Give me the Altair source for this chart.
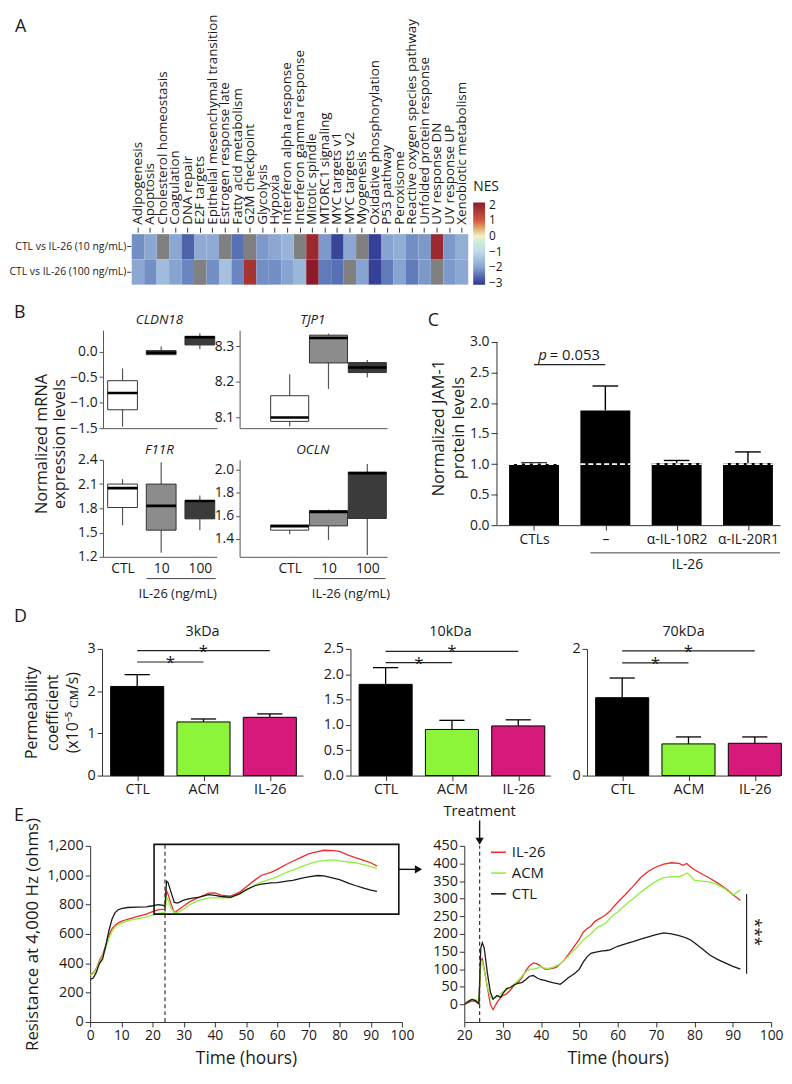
import json
import altair as alt
import pandas as pd

FONT = "Open Sans"
INK = "#1a1a1a"

# ---------------- Panel A: NES heatmap ----------------
pathways = [
    "Adipogenesis", "Apoptosis", "Cholesterol homeostasis", "Coagulation", "DNA repair",
    "E2F targets", "Epithelial mesenchymal transition", "Estrogen response late",
    "Fatty acid metabolism", "G2M checkpoint", "Glycolysis", "Hypoxia",
    "Interferon alpha response", "Interferon gamma response", "Mitotic spindle",
    "MTORC1 signaling", "MYC targets v1", "MYC targets v2", "Myogenesis",
    "Oxidative phosphorylation", "P53 pathway", "Peroxisome",
    "Reactive oxygen species pathway", "Unfolded protein response", "UV response DN",
    "UV response UP", "Xenobiotic metabolism",
]
comparisons = ["CTL vs IL-26 (10 ng/mL)", "CTL vs IL-26 (100 ng/mL)"]
nes_10 = [-2.2, -1.9, None, -1.9, -2.65, -1.85, -1.85, None, -2.5, None, -2.1, -1.9, -1.7, None,
          1.9, -2.1, -2.95, -1.9, None, -3.0, -2.0, -1.8, -2.2, -2.1, 1.9, -2.1, -1.8]
nes_100 = [-1.9, -2.2, -1.55, -2.0, -2.3, None, -2.2, -1.45, -2.3, 1.7, -2.2, -2.2, -2.0, -1.65,
           2.15, -2.4, -2.5, None, -2.0, -3.0, -2.4, -2.0, -2.4, -2.1, None, -2.1, -1.9]
nes_legend_values = [-3, -2, -1, 0, 1, 2]
nes_stops = [-3.1, -2, -1, 0, 1, 2.15]
nes_colors = ["#30368f", "#87a3cf", "#c4d8ea", "#f5f0c6", "#cf5a3f", "#8b1b2b"]
na_color = "#808080"

# ---------------- Panel B: boxplots ----------------
box_groups = ["CTL", "10", "100"]
box_fills = ["#ffffff", "#8c8c8c", "#3b3b3b"]
cldn18 = dict(lo=[-1.47, -0.06, 0.05], q1=[-1.14, -0.06, 0.13], med=[-0.81, -0.02, 0.28],
              q3=[-0.57, 0.02, 0.30], hi=[-0.33, 0.10, 0.36])
tjp1 = dict(lo=[8.075, 8.18, 8.212], q1=[8.089, 8.253, 8.226], med=[8.10, 8.323, 8.24],
            q3=[8.161, 8.331, 8.254], hi=[8.221, 8.335, 8.261])
f11r = dict(lo=[1.59, 1.25, 1.53], q1=[1.81, 1.53, 1.67], med=[2.05, 1.83, 1.89],
            q3=[2.10, 2.10, 1.895], hi=[2.16, 2.37, 1.96])
ocln = dict(lo=[1.44, 1.39, 1.26], q1=[1.476, 1.513, 1.577], med=[1.51, 1.634, 1.97],
            q3=[1.521, 1.645, 1.977], hi=[1.521, 1.654, 2.048])

# ---------------- Panel C: JAM-1 ----------------
jam_labels = ["CTLs", "\u2013", "\u03b1-IL-10R2", "\u03b1-IL-20R1"]
jam_mean = [1.00, 1.88, 1.02, 1.02]
jam_upper = [1.02, 2.28, 1.06, 1.20]
jam_baseline = [1.0, 1.0, 1.0, 1.0]
jam_sig = dict(a=[0], b=[1], lvl=[2.63])
jam_axis_span = dict(x=[-0.52], y0=[0], y1=[3])

# ---------------- Panel D: permeability ----------------
perm_groups = ["CTL", "ACM", "IL-26"]
perm_colors = ["#000000", "#8cf53a", "#d6197b"]
perm_titles = ["3kDa", "10kDa", "70kDa"]
perm_mean = [[2.11, 1.27, 1.38], [1.80, 0.91, 0.98], [1.23, 0.50, 0.51]]
perm_upper = [[2.39, 1.34, 1.46], [2.13, 1.09, 1.10], [1.54, 0.61, 0.61]]
perm_sig_long = [2.96, 2.45, 1.97]
perm_sig_short = [2.69, 2.23, 1.78]
perm_ymax = [3, 2.5, 2]
perm_ticks = [[0, 1, 2, 3], [0, 0.5, 1, 1.5, 2, 2.5], [0, 1, 2]]
perm_fmt = ["d", ".1f", "d"]

# ---------------- Panel E: resistance ----------------
series_names = ["IL-26", "ACM", "CTL"]
series_colors = ["#ee2a2a", "#8ef03c", "#1a1a1a"]
t_left = [0, 1, 2, 3, 4, 5, 6, 7, 8, 9, 10, 12, 15, 18, 20, 22, 23.5, 24, 24.5, 25, 26, 27, 28,
          30, 32, 35, 38, 40, 42, 45, 48, 50, 53, 55, 58, 60, 63, 65, 68, 70, 73, 75, 78, 80,
          83, 85, 88, 90, 92]
ctl_left = [290, 300, 340, 400, 430, 520, 620, 700, 745, 765, 772, 780, 782, 785, 792, 800, 795,
            785, 960, 950, 880, 815, 810, 830, 840, 850, 868, 862, 855, 850, 875, 900, 930, 940,
            948, 950, 960, 965, 980, 988, 998, 995, 980, 970, 945, 930, 910, 898, 890]
il26_left = [320, 335, 365, 420, 460, 520, 590, 635, 660, 675, 685, 700, 718, 735, 752, 765, 768,
             768, 893, 870, 800, 745, 760, 790, 820, 850, 878, 880, 865, 858, 885, 920, 970, 1000,
             1020, 1040, 1075, 1095, 1125, 1145, 1160, 1170, 1168, 1162, 1135, 1120, 1100, 1085, 1062]
acm_left = [320, 330, 360, 410, 450, 500, 570, 615, 645, 662, 672, 690, 703, 715, 728, 740, 745,
            745, 855, 830, 775, 745, 745, 770, 800, 830, 845, 846, 845, 845, 870, 900, 935, 955,
            975, 990, 1020, 1035, 1060, 1075, 1095, 1100, 1105, 1098, 1090, 1085, 1070, 1060, 1045]
t_right = [20, 21, 22, 23, 23.8, 24.3, 24.7, 25.2, 26, 26.8, 27.5, 28.5, 29.5, 30, 31, 32, 33, 34,
           35, 36, 37, 38, 39, 40, 41, 42, 43, 44, 45, 46, 47, 48, 49, 50, 51, 52, 53, 54, 55, 56,
           57, 58, 59, 60, 62, 64, 66, 68, 70, 72, 74, 76, 77, 78, 79, 80, 82, 84, 86, 88, 90, 92]
il26_right = [0, 5, 10, 8, 2, 125, 130, 100, 50, 0, -15, 5, 20, 25, 30, 40, 55, 62, 75, 95, 110,
              118, 115, 108, 100, 100, 102, 105, 115, 125, 140, 155, 170, 185, 205, 215, 222, 235,
              242, 248, 255, 265, 278, 290, 312, 335, 360, 378, 390, 398, 402, 400, 395, 400, 390,
              382, 370, 358, 345, 330, 312, 295]
acm_right = [0, 10, 15, 14, 8, 120, 122, 95, 50, 20, 15, 22, 30, 35, 40, 48, 58, 68, 80, 92, 100,
             100, 103, 108, 103, 102, 105, 110, 115, 125, 135, 148, 158, 170, 183, 192, 200, 212,
             220, 225, 232, 245, 255, 262, 282, 300, 318, 335, 350, 360, 362, 363, 366, 373, 365,
             352, 350, 348, 340, 328, 310, 325]
ctl_right = [0, 8, 14, 10, 2, 160, 175, 160, 90, 35, 15, 25, 20, 30, 45, 48, 55, 60, 62, 70, 80,
             82, 75, 70, 68, 65, 62, 60, 57, 65, 75, 82, 90, 100, 120, 135, 145, 148, 150, 152,
             153, 155, 160, 165, 172, 178, 185, 192, 198, 203, 200, 195, 192, 188, 183, 175, 158,
             140, 128, 118, 108, 100]
treat_time = 24
zoom_box = dict(t0=[20.5], t1=[99], v0=[735], v1=[1210])
zoom_arrow = dict(t0=[99], t1=[104.5], v=[1040], head=[105.3])
treat_arrow = dict(t=[24], v0=[522], v1=[470], head=[463], label=[548])
sig_right = dict(t=[93.6], v0=[87], v1=[313], star_t=[95.7], star_v=[205])


def label(text, x, y, size=14, font=FONT, align="center", baseline="middle", angle=0,
          style="normal", opacity=1, line_height=None, color=INK):
    props = dict(text=text, align=align, baseline=baseline, font=font, fontSize=size,
                 fontStyle=style, angle=angle, opacity=opacity, color=color)
    if line_height is not None:
        props["lineHeight"] = line_height
    return alt.Chart(pd.DataFrame({"k": [0]})).mark_text(**props).encode(
        x=alt.value(x), y=alt.value(y))


def spacer(w, h=4):
    return alt.Chart(pd.DataFrame({"k": [0]})).mark_point(opacity=0, size=1).encode(
        x=alt.value(w / 2), y=alt.value(h / 2)).properties(width=w, height=h)


# ======== A ========
HM_W = 340
HM_X = 119
hm_df = pd.DataFrame({
    "pathway": pathways * 2,
    "comp": [comparisons[0]] * len(pathways) + [comparisons[1]] * len(pathways),
    "nes": nes_10 + nes_100,
})
hm_x = alt.X("pathway:N", sort=pathways, scale=alt.Scale(paddingInner=0, paddingOuter=0),
             axis=alt.Axis(orient="top", title=None, labelAngle=-90, labelAlign="left",
                           labelBaseline="middle", labelFont=FONT, labelFontSize=13.5,
                           labelLimit=400, labelPadding=3, tickSize=5, domain=False, offset=2,
                           labelColor=INK, tickColor="#333"))
hm_y = alt.Y("comp:N", sort=comparisons, scale=alt.Scale(paddingInner=0, paddingOuter=0),
             axis=alt.Axis(title=None, labelFont=FONT, labelFontSize=10.5, labelLimit=300,
                           tickSize=4, domain=False, labelPadding=1, offset=1,
                           labelColor=INK, tickColor="#333"))
hm_valid = alt.Chart(hm_df).transform_filter("isValid(datum.nes)").mark_rect().encode(
    x=hm_x, y=hm_y,
    color=alt.Color("nes:Q", scale=alt.Scale(domain=nes_stops, range=nes_colors, clamp=True),
                    legend=alt.Legend(title="NES", orient="none", legendX=HM_W + 5, legendY=-55,
                                      gradientLength=83, gradientThickness=12,
                                      values=nes_legend_values, labelFont=FONT,
                                      labelFontSize=12, titleFont=FONT, titleFontSize=14,
                                      titleFontWeight="normal", labelOffset=4, titlePadding=9,
                                      direction="vertical", labelColor=INK, titleColor=INK,
                                      gradientStrokeWidth=0)))
hm_na = alt.Chart(hm_df).transform_filter("!isValid(datum.nes)").mark_rect(color=na_color).encode(
    x=hm_x, y=hm_y)
heatmap = alt.layer(hm_na, hm_valid,
                    label("A", -HM_X + 1, -218, size=18, align="left", baseline="top")
                    ).properties(width=HM_W, height=51)
row_a = alt.hconcat(spacer(HM_X), heatmap, spacing=0, bounds="flush").resolve_scale(
    color="independent").resolve_legend(color="independent")


# ======== B ========
def box_panel(stats, gene, ydom, yticks, xdom, hw, width, height, bottom, title_x,
              under=None, xt_x=None, extra=()):
    df = pd.DataFrame({"pos": [0, 1, 2], "grp": box_groups, **stats})
    xs = alt.Scale(domain=xdom, nice=False, zero=False)
    ys = alt.Scale(domain=ydom, nice=False, zero=False)
    if bottom:
        xax = alt.Axis(values=[0, 1, 2], labelExpr="['CTL', '10', '100'][datum.value]",
                       tickSize=0, labelPadding=5, labelFontSize=14, labelFlush=False,
                       title="IL-26 (ng/mL)", titleX=xt_x, titleY=31, titleBaseline="top",
                       titleAlign="center", titleFontSize=13, domainColor="#555", grid=False)
    else:
        xax = alt.Axis(labels=False, ticks=False, title=None, domainColor="#555", grid=False)
    yax = alt.Axis(values=yticks, format=".1f", tickSize=4, labelPadding=2, labelFontSize=14,
                   title=None, domainColor="#555", tickColor="#555", grid=False)

    def X(f):
        return alt.X(f, type="quantitative", scale=xs, axis=xax)

    def Y(f):
        return alt.Y(f, type="quantitative", scale=ys, axis=yax)

    base = alt.Chart(df).transform_calculate(xl=f"datum.pos - {hw}", xr=f"datum.pos + {hw}")
    whisk = base.mark_rule(color="#555", strokeWidth=1.2).encode(x=X("pos"), y=Y("lo"), y2="hi")
    box = base.mark_rect(stroke="#333", strokeWidth=1).encode(
        x=X("xl"), x2="xr", y=Y("q1"), y2="q3",
        fill=alt.Fill("grp:N", scale=alt.Scale(domain=box_groups, range=box_fills), legend=None))
    med = base.mark_rect(stroke="#000", strokeWidth=2.6, fillOpacity=0).encode(
        x=X("xl"), x2="xr", y=Y("med"), y2="med")
    layers = [whisk, box, med, label(gene, title_x, -10, size=13.5, style="italic")]
    if bottom:
        ul = alt.Chart(pd.DataFrame({"a": [under[0]], "b": [under[1]]})).mark_rule(
            color="#444").encode(x=X("a"), x2="b", y=alt.value(height + 22))
        layers.append(ul)
    layers += list(extra)
    return alt.layer(*layers).properties(width=width, height=height)


LX = [-0.505, 2.44]
RX = [-1.29, 2.51]
p_cldn = box_panel(cldn18, "CLDN18", [-1.5, 0.42], [-1.5, -1.0, -0.5, 0.0], LX, 0.385, 115, 99,
                   False, 57,
                   extra=[label("B", -90, -26, size=18, align="left", baseline="top"),
                          label("B", -90, -33, size=8, align="left", baseline="top", opacity=0)])
p_tjp = box_panel(tjp1, "TJP1", [8.07, 8.345], [8.1, 8.2, 8.3], RX, 0.49, 149, 99, False, 74)
p_f11 = box_panel(f11r, "F11R", [1.2, 2.4], [1.2, 1.5, 1.8, 2.1, 2.4], LX, 0.385, 115, 98,
                  True, 57, under=[0.62, 2.41], xt_x=75,
                  extra=[label(["Normalized mRNA", "expression levels"], -62, -16, size=16.5,
                               angle=270, line_height=19)])
p_ocl = box_panel(ocln, "OCLN", [1.245, 2.085], [1.4, 1.6, 1.8, 2.0], RX, 0.49, 149, 98,
                  True, 74, under=[0.62, 2.47], xt_x=112)
bgrid = alt.concat(spacer(67), p_cldn, p_tjp, spacer(67), p_f11, p_ocl, columns=3,
                   align="each", bounds="flush", spacing={"row": 32, "column": 23})

# ======== C ========
C_W, C_H = 286, 197
C_TOP = 3 + 12 / 61.67
jam_df = pd.DataFrame({"pos": [0, 1, 2, 3], "mean": jam_mean, "upper": jam_upper,
                       "baseline": jam_baseline})
cxs = alt.Scale(domain=[-0.52, 3.45], nice=False, zero=False)
cys = alt.Scale(domain=[0, C_TOP], nice=False)
cxax = alt.Axis(values=[0, 1, 2, 3],
                labelExpr=json.dumps(jam_labels, ensure_ascii=False) + "[datum.value]",
                tickSize=5, labelPadding=3, labelFontSize=14, labelFlush=False,
                title="IL-26", titleX=192, titleY=33, titleBaseline="top", titleFontSize=14,
                grid=False)
cyax = alt.Axis(values=[0, 0.5, 1, 1.5, 2, 2.5, 3], format=".1f", tickSize=6, labelPadding=2,
                labelFontSize=14, title=["Normalized JAM-1", "protein levels"], domain=False,
                titleFontSize=16.5, titleLineHeight=20, titlePadding=3, grid=False)


def CX(f):
    return alt.X(f, type="quantitative", scale=cxs, axis=cxax)


def CY(f):
    return alt.Y(f, type="quantitative", scale=cys, axis=cyax)


cbase = alt.Chart(jam_df).transform_calculate(
    xl="datum.pos - 0.35", xr="datum.pos + 0.35", cl="datum.pos - 0.18", cr="datum.pos + 0.18",
    zero="0")
c_axis = alt.Chart(pd.DataFrame(jam_axis_span)).mark_rule(color="#333").encode(
    x=CX("x"), y=CY("y0"), y2="y1")
c_bars = cbase.mark_rect(color="#000").encode(x=CX("xl"), x2="xr", y=CY("zero"), y2="mean")
c_err = cbase.mark_rule(color="#000", strokeWidth=1.4).encode(x=CX("pos"), y=CY("mean"), y2="upper")
c_cap = cbase.mark_rule(color="#000", strokeWidth=1.4).encode(x=CX("cl"), x2="cr", y=CY("upper"))
c_dash = cbase.mark_rule(color="#ffffff", strokeWidth=2, strokeDash=[5, 3]).encode(
    x=CX("xl"), x2="xr", y=CY("baseline"))
c_sig = alt.Chart(pd.DataFrame(jam_sig)).mark_rule(color="#222", strokeWidth=1.2).encode(
    x=CX("a"), x2="b", y=CY("lvl"))
c_p = alt.Chart(pd.DataFrame({"x": [0.12], "y": [2.79]})).mark_text(
    text="p", fontStyle="italic", font=FONT, fontSize=15, color=INK).encode(x=CX("x"), y=CY("y"))
c_pv = alt.Chart(pd.DataFrame({"x": [0.22], "y": [2.79]})).mark_text(
    text="= 0.053", align="left", font=FONT, fontSize=15, color=INK).encode(x=CX("x"), y=CY("y"))
c_ul = alt.Chart(pd.DataFrame({"a": [0.79], "b": [3.45]})).mark_rule(color="#444").encode(
    x=CX("a"), x2="b", y=alt.value(C_H + 28))
c_chart = alt.layer(
    c_axis, c_bars, c_err, c_cap, c_dash, c_sig, c_p, c_pv, c_ul,
    label("C", -70, -18, size=18, align="left", baseline="top"),
).properties(width=C_W, height=C_H)

row_bc = alt.hconcat(bgrid, c_chart, spacing=38)


# ======== D ========
def perm_panel(i, width, first):
    step = 67.0
    xs = alt.Scale(domain=[-0.53, -0.53 + width / step], nice=False, zero=False)
    ys = alt.Scale(domain=[0, perm_ymax[i]], nice=False)
    yax = alt.Axis(values=perm_ticks[i], format=perm_fmt[i], tickSize=5, labelPadding=2,
                   labelFontSize=14.5, grid=False, labelOverlap=False,
                   title=["Permeability", "coefficient", "(x10\u207b\u2075 \u1d04\u1d0d/s)"] if first else None,
                   titleFontSize=16, titleLineHeight=21, titlePadding=6)
    xax = alt.Axis(values=[0, 1, 2], labelExpr=json.dumps(perm_groups) + "[datum.value]",
                   tickSize=5, labelPadding=2, labelFontSize=14.5, labelFlush=False,
                   title=None, grid=False)

    def X(f):
        return alt.X(f, type="quantitative", scale=xs, axis=xax)

    def Y(f):
        return alt.Y(f, type="quantitative", scale=ys, axis=yax)

    df = pd.DataFrame({"pos": [0, 1, 2], "grp": perm_groups, "mean": perm_mean[i],
                       "upper": perm_upper[i]})
    base = alt.Chart(df).transform_calculate(
        xl="datum.pos - 0.4", xr="datum.pos + 0.4", cl="datum.pos - 0.19",
        cr="datum.pos + 0.19", zero="0")
    bars = base.mark_rect(stroke="#000", strokeWidth=1).encode(
        x=X("xl"), x2="xr", y=Y("zero"), y2="mean",
        fill=alt.Fill("grp:N", scale=alt.Scale(domain=perm_groups, range=perm_colors), legend=None))
    err = base.mark_rule(color="#000", strokeWidth=1.3).encode(x=X("pos"), y=Y("mean"), y2="upper")
    cap = base.mark_rule(color="#000", strokeWidth=1.3).encode(x=X("cl"), x2="cr", y=Y("upper"))
    sig = alt.Chart(pd.DataFrame({"a": [0, 0], "b": [2, 1],
                                  "lvl": [perm_sig_long[i], perm_sig_short[i]]})).mark_rule(
        color="#222", strokeWidth=1.2).encode(x=X("a"), x2="b", y=Y("lvl"))
    stars = alt.Chart(pd.DataFrame({"m": [1.0, 0.5],
                                    "lvl": [perm_sig_long[i], perm_sig_short[i]]})).mark_text(
        text="*", fontSize=17, font=FONT, baseline="alphabetic", dy=6, color=INK).encode(
        x=X("m"), y=Y("lvl"))
    layers = [bars, err, cap, sig, stars, label(perm_titles[i], width / 2, -17, size=14.5)]
    if first:
        layers.append(label("D", -89, -41, size=18, align="left", baseline="top"))
    return alt.layer(*layers).properties(width=width, height=128)


row_d = alt.hconcat(spacer(89), perm_panel(0, 203, True), spacer(48), perm_panel(1, 202, False),
                    spacer(37), perm_panel(2, 195, False), spacing=0, bounds="flush")

# ======== E ========
E_H = 178
series_scale = alt.Scale(domain=series_names, range=series_colors)
left_df = pd.concat([
    pd.DataFrame({"t": t_left, "v": il26_left, "s": "IL-26"}),
    pd.DataFrame({"t": t_left, "v": acm_left, "s": "ACM"}),
    pd.DataFrame({"t": t_left, "v": ctl_left, "s": "CTL"}),
])
right_df = pd.concat([
    pd.DataFrame({"t": t_right, "v": il26_right, "s": "IL-26"}),
    pd.DataFrame({"t": t_right, "v": acm_right, "s": "ACM"}),
    pd.DataFrame({"t": t_right, "v": ctl_right, "s": "CTL"}),
])

ex1 = alt.Scale(domain=[0, 100], nice=False, zero=False)
ey1 = alt.Scale(domain=[0, 1200], nice=False)
xax1 = alt.Axis(values=list(range(0, 101, 10)), tickSize=5, labelPadding=2, labelFontSize=14,
                labelFlush=False, title="Time (hours)", titleFontSize=17.5, titlePadding=7,
                grid=False)
yax1 = alt.Axis(values=list(range(0, 1201, 200)), format=",d", tickSize=5, labelPadding=2,
                labelFontSize=14.5, title="Resistance at 4,000 Hz (ohms)", titleFontSize=17,
                titlePadding=5, grid=False)


def X1(f):
    return alt.X(f, type="quantitative", scale=ex1, axis=xax1)


def Y1(f):
    return alt.Y(f, type="quantitative", scale=ey1, axis=yax1)


e1_lines = alt.Chart(left_df).mark_line(strokeWidth=1.3).encode(
    x=X1("t"), y=Y1("v"), color=alt.Color("s:N", scale=series_scale, legend=None))
e1_dash = alt.Chart(pd.DataFrame({"t": [treat_time], "v0": [0], "v1": zoom_box["v1"]})).mark_rule(
    strokeDash=[4, 3], color="#333", strokeWidth=1.2).encode(x=X1("t"), y=Y1("v0"), y2="v1")
e1_box = alt.Chart(pd.DataFrame(zoom_box)).mark_rect(fillOpacity=0, stroke="#111",
                                                    strokeWidth=1.6).encode(
    x=X1("t0"), x2="t1", y=Y1("v0"), y2="v1")
e1_arrow = alt.Chart(pd.DataFrame(zoom_arrow)).mark_rule(color="#111", strokeWidth=1.4).encode(
    x=X1("t0"), x2="t1", y=Y1("v"))
e1_head = alt.Chart(pd.DataFrame(zoom_arrow)).mark_point(
    shape="triangle-right", filled=True, size=70, color="#111", opacity=1).encode(
    x=X1("head"), y=Y1("v"))
e1 = alt.layer(e1_lines, e1_dash, e1_box, e1_arrow, e1_head,
               label("E", -77, -39, size=18, align="left", baseline="top")
               ).properties(width=315, height=E_H)

ex2 = alt.Scale(domain=[20, 100], nice=False, zero=False)
ey2 = alt.Scale(domain=[-50, 450], nice=False, zero=False)
xax2 = alt.Axis(values=list(range(20, 101, 10)), tickSize=5, labelPadding=2, labelFontSize=14,
                labelFlush=False, title="Time (hours)", titleFontSize=17.5, titlePadding=7,
                grid=False)
yax2 = alt.Axis(values=list(range(0, 451, 50)), format="d", tickSize=5, labelPadding=2,
                labelFontSize=14.5, title=None, grid=False)


def X2(f):
    return alt.X(f, type="quantitative", scale=ex2, axis=xax2)


def Y2(f):
    return alt.Y(f, type="quantitative", scale=ey2, axis=yax2)


e2_lines = alt.Chart(right_df).mark_line(strokeWidth=1.3).encode(
    x=X2("t"), y=Y2("v"),
    color=alt.Color("s:N", scale=series_scale,
                    legend=alt.Legend(orient="none", legendX=26, legendY=-2, title=None,
                                      symbolType="stroke", symbolSize=225,
                                      symbolStrokeWidth=1.6, labelFont=FONT, labelFontSize=15,
                                      labelColor=INK, labelOffset=5, rowPadding=4)))
e2_dash = alt.Chart(pd.DataFrame({"t": [treat_time], "v0": [-50], "v1": [450]})).mark_rule(
    strokeDash=[4, 3], color="#333", strokeWidth=1.2).encode(x=X2("t"), y=Y2("v0"), y2="v1")
e2_arrow = alt.Chart(pd.DataFrame(treat_arrow)).mark_rule(color="#111", strokeWidth=1.4).encode(
    x=X2("t"), y=Y2("v0"), y2="v1")
e2_head = alt.Chart(pd.DataFrame(treat_arrow)).mark_point(
    shape="triangle-down", filled=True, size=70, color="#111", opacity=1).encode(
    x=X2("t"), y=Y2("head"))
e2_text = alt.Chart(pd.DataFrame(treat_arrow)).mark_text(
    text="Treatment", font=FONT, fontSize=15, color=INK).encode(x=X2("t"), y=Y2("label"))
e2_sig = alt.Chart(pd.DataFrame(sig_right)).mark_rule(color="#222", strokeWidth=1.2).encode(
    x=X2("t"), y=Y2("v0"), y2="v1")
e2_star = alt.Chart(pd.DataFrame(sig_right)).mark_text(
    text="***", angle=90, font=FONT, fontSize=17, color=INK).encode(
    x=X2("star_t"), y=Y2("star_v"))
e2 = alt.layer(e2_lines, e2_dash, e2_arrow, e2_head, e2_text, e2_sig, e2_star
               ).properties(width=310, height=E_H)

row_e = alt.hconcat(spacer(77), e1, spacer(63), e2, spacing=0, bounds="flush").resolve_scale(
    color="independent").resolve_legend(color="independent")

chart = alt.vconcat(row_a, row_bc, row_d, row_e, spacing=8).resolve_scale(
    color="independent", fill="independent").resolve_legend(
    color="independent", fill="independent").properties(padding=0).configure_view(
    stroke=None).configure_axis(
    labelFont=FONT, titleFont=FONT, labelColor=INK, titleColor=INK, titleFontWeight="normal",
    domainColor="#333", tickColor="#333", grid=False).configure_legend(labelFont=FONT)

chart.save("out.html", embed_options={"renderer": "svg", "actions": False})
